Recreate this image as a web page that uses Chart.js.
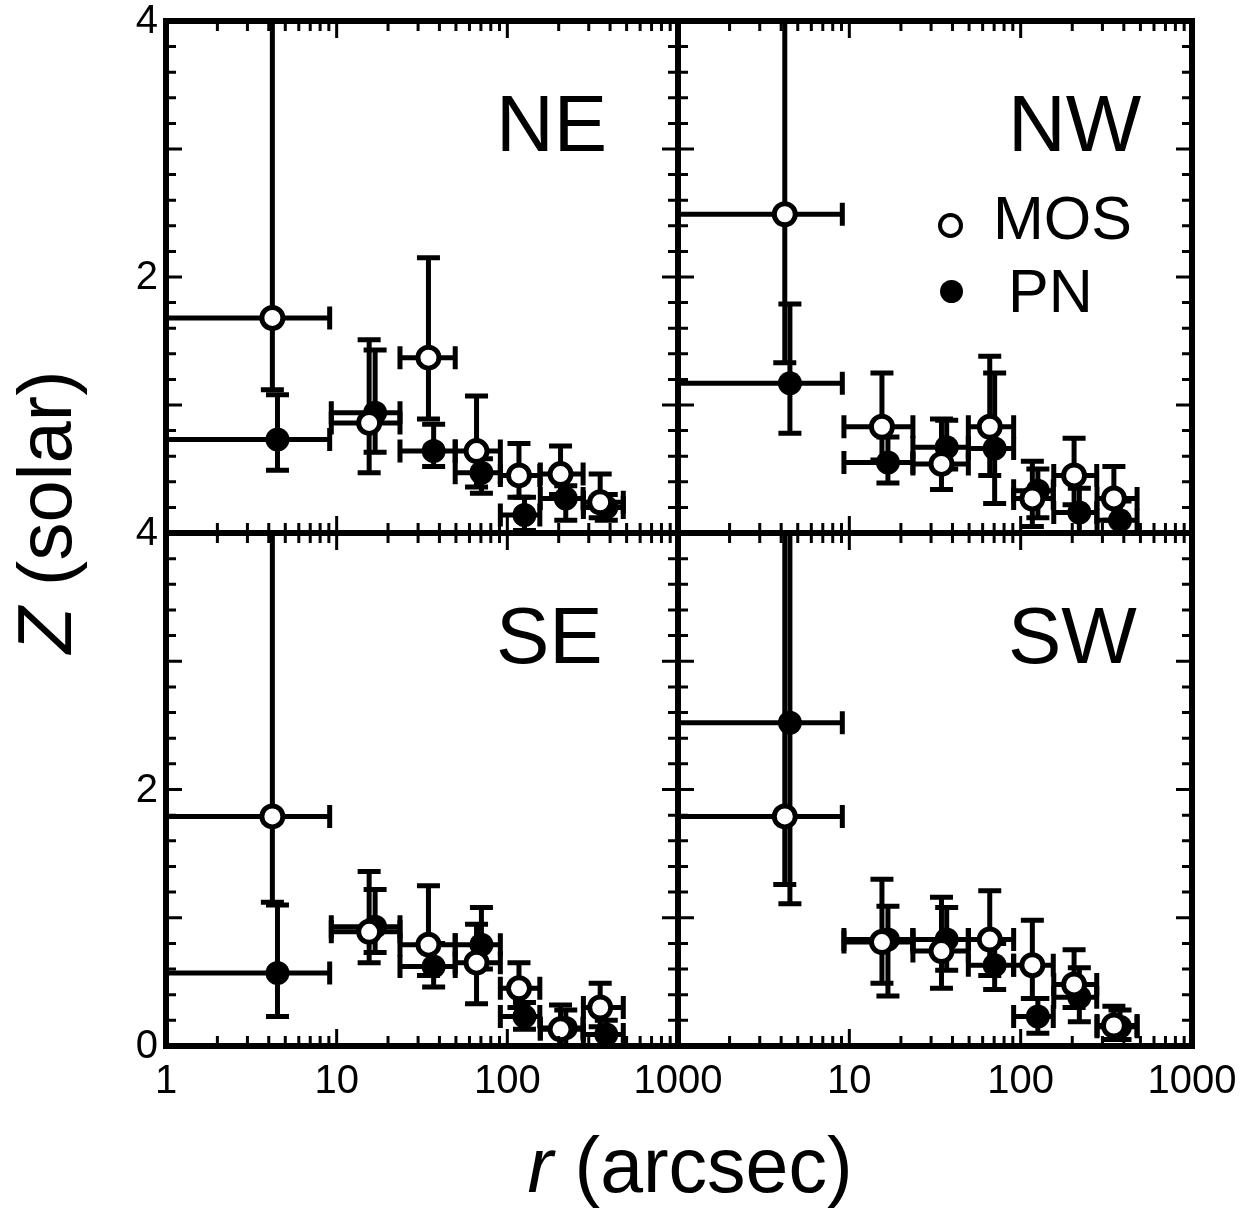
<!DOCTYPE html>
<html>
<head>
<meta charset="utf-8">
<script src="https://cdn.jsdelivr.net/npm/chart.js@4.4.1/dist/chart.umd.min.js"></script>
<style>
  html, body { margin: 0; padding: 0; background: #fff; }
  #fig { position: relative; width: 1253px; height: 1213px; overflow: hidden;
         font-family: "Liberation Sans", Arial, Helvetica, sans-serif; color: #000; }
  #fig canvas { position: absolute; }
  .lbl { position: absolute; white-space: nowrap; line-height: 1; }
  .mk { position: absolute; box-sizing: border-box; border-radius: 50%; }
</style>
</head>
<body>
<div id="fig"></div>
<script>
// radial bins (arcsec), shared by all sectors
const binLo = [0.3, 9.3, 23.5, 49.5, 91, 156, 279];
const binHi = [9.1, 23.5, 49.5, 91, 155, 278, 478];
const mosR = [4.2, 15.5, 34.5, 66, 117, 205, 350];
const pnR  = [4.5, 16.8, 37, 70.5, 126, 220, 380];

// NE
const neMosZ  = [1.68, 0.86, 1.37, 0.64, 0.45, 0.46, 0.24];
const neMosLo = [1.12, 0.47, 0.89, 0.36, 0.28, 0.30, 0.12];
const neMosHi = [4.6, 1.51, 2.15, 1.07, 0.70, 0.68, 0.46];
const nePnZ   = [0.73, 0.94, 0.64, 0.47, 0.14, 0.27, 0.20];
const nePnLo  = [0.49, 0.63, 0.52, 0.31, 0.02, 0.10, 0.10];
const nePnHi  = [1.08, 1.43, 0.85, 0.58, 0.28, 0.37, 0.30];

// NW
const nwMosZ  = [2.49, 0.83, 0.54, 0.83, 0.27, 0.45, 0.27];
const nwMosLo = [1.33, 0.57, 0.34, 0.45, 0.05, 0.22, 0.10];
const nwMosHi = [4.6, 1.25, 0.89, 1.38, 0.56, 0.74, 0.52];
const nwPnZ   = [1.17, 0.55, 0.67, 0.66, 0.33, 0.16, 0.10];
const nwPnLo  = [0.78, 0.39, 0.50, 0.23, 0.12, 0.0, 0.0];
const nwPnHi  = [1.79, 0.75, 0.88, 1.25, 0.50, 0.35, 0.25];

// SE
const seMosZ  = [1.79, 0.89, 0.79, 0.65, 0.45, 0.13, 0.30];
const seMosLo = [1.12, 0.65, 0.55, 0.33, 0.30, 0.0, 0.15];
const seMosHi = [4.6, 1.36, 1.25, 0.95, 0.65, 0.32, 0.49];
const sePnZ   = [0.57, 0.93, 0.62, 0.79, 0.23, 0.14, 0.09];
const sePnLo  = [0.23, 0.73, 0.46, 0.60, 0.13, 0.0, 0.0];
const sePnHi  = [1.10, 1.22, 0.80, 1.08, 0.34, 0.28, 0.20];

// SW
const swMosZ  = [1.79, 0.81, 0.74, 0.83, 0.63, 0.48, 0.16];
const swMosLo = [1.26, 0.49, 0.45, 0.55, 0.37, 0.30, 0.05];
const swMosHi = [4.6, 1.30, 1.16, 1.21, 0.98, 0.75, 0.31];
const swPnZ   = [2.52, 0.83, 0.83, 0.63, 0.23, 0.38, 0.15];
const swPnLo  = [1.11, 0.39, 0.59, 0.44, 0.10, 0.19, 0.05];
const swPnHi  = [4.6, 1.09, 1.08, 0.80, 0.37, 0.61, 0.28];

// tick labels
const xTickVals = [1, 10, 100, 1000];
const xTickText = ['1', '10', '100', '1000'];
const yTickVals = [0, 2, 4];
const yTickText = ['0', '2', '4'];

// tick marks (inward, all sides)
const xMajor = [10, 100];
const xMinor = [];
[1, 10, 100].forEach(d => { for (let k = 2; k <= 9; k++) xMinor.push(k * d); });
const yMajor = [1, 2, 3];
const yMinor = [];
for (let k = 1; k < 20; k++) if (k % 5) yMinor.push(k / 5);

const fig = document.getElementById('fig');

const errorBars = {
  id: 'errorBars',
  beforeDatasetsDraw(chart) {
    const { ctx, chartArea: a, scales: { x, y } } = chart;
    ctx.save();
    ctx.beginPath();
    ctx.rect(a.left, a.top, a.right - a.left, a.bottom - a.top);
    ctx.clip();
    ctx.strokeStyle = '#000';
    ctx.lineWidth = 5;
    ctx.lineCap = 'butt';
    const cap = 11.5;
    chart.data.datasets.slice().reverse().forEach(ds => {
      ds.data.forEach((pt, i) => {
        const px = x.getPixelForValue(pt.x), py = y.getPixelForValue(pt.y);
        const x0 = x.getPixelForValue(ds.xLo[i]), x1 = x.getPixelForValue(ds.xHi[i]);
        const y0 = y.getPixelForValue(ds.yLo[i]), y1 = y.getPixelForValue(ds.yHi[i]);
        ctx.beginPath();
        ctx.moveTo(x0, py); ctx.lineTo(x1, py);
        ctx.moveTo(x0, py - cap); ctx.lineTo(x0, py + cap);
        ctx.moveTo(x1, py - cap); ctx.lineTo(x1, py + cap);
        ctx.moveTo(px, y0); ctx.lineTo(px, y1);
        ctx.moveTo(px - cap, y0); ctx.lineTo(px + cap, y0);
        ctx.moveTo(px - cap, y1); ctx.lineTo(px + cap, y1);
        ctx.stroke();
      });
    });
    ctx.restore();
  }
};

const frame = {
  id: 'frame',
  afterDraw(chart) {
    const { ctx, chartArea: a, scales: { x, y } } = chart;
    ctx.save();
    ctx.strokeStyle = '#000';
    ctx.lineWidth = 3;
    ctx.beginPath();
    const tx = (v, len) => {
      const p = x.getPixelForValue(v);
      ctx.moveTo(p, a.bottom); ctx.lineTo(p, a.bottom - len);
      ctx.moveTo(p, a.top); ctx.lineTo(p, a.top + len);
    };
    const ty = (v, len) => {
      const p = y.getPixelForValue(v);
      ctx.moveTo(a.left, p); ctx.lineTo(a.left + len, p);
      ctx.moveTo(a.right, p); ctx.lineTo(a.right - len, p);
    };
    xMinor.forEach(v => tx(v, 10));
    xMajor.forEach(v => tx(v, 17));
    yMinor.forEach(v => ty(v, 10));
    yMajor.forEach(v => ty(v, 16));
    ctx.stroke();
    ctx.lineWidth = 6;
    ctx.strokeRect(a.left, a.top, a.right - a.left, a.bottom - a.top);
    ctx.restore();
  }
};

function text(html, x, baseline, size, align, extra) {
  const d = document.createElement('div');
  d.className = 'lbl';
  d.innerHTML = html;
  d.style.fontSize = size + 'px';
  d.style.left = x + 'px';
  d.style.top = (baseline - 0.8465 * size) + 'px';
  if (align === 'center') d.style.transform = 'translateX(-50%)';
  if (align === 'right') d.style.transform = 'translateX(-100%)';
  if (extra) Object.assign(d.style, extra);
  fig.appendChild(d);
  return d;
}

const M = 24;
function makePanel(p) {
  const w = p.right - p.left, h = p.bottom - p.top;
  const cv = document.createElement('canvas');
  cv.width = w + 2 * M;
  cv.height = h + 2 * M;
  cv.style.left = (p.left - M) + 'px';
  cv.style.top = (p.top - M) + 'px';
  fig.appendChild(cv);
  const chart = new Chart(cv, {
    type: 'scatter',
    data: {
      datasets: [
        {
          label: 'MOS',
          data: mosR.map((r, i) => ({ x: r, y: p.mosZ[i] })),
          xLo: binLo, xHi: binHi, yLo: p.mosLo, yHi: p.mosHi,
          pointRadius: 10.5, pointHoverRadius: 10.5,
          pointBackgroundColor: '#fff', pointBorderColor: '#000', pointBorderWidth: 5
        },
        {
          label: 'PN',
          data: pnR.map((r, i) => ({ x: r, y: p.pnZ[i] })),
          xLo: binLo, xHi: binHi, yLo: p.pnLo, yHi: p.pnHi,
          pointRadius: 12, pointHoverRadius: 12,
          pointBackgroundColor: '#000', pointBorderColor: '#000', pointBorderWidth: 0
        }
      ]
    },
    options: {
      responsive: false,
      animation: false,
      events: [],
      layout: { padding: M },
      plugins: { legend: { display: false }, tooltip: { enabled: false } },
      scales: {
        x: { type: 'logarithmic', min: 1, max: 1000, display: false },
        y: { type: 'linear', min: 0, max: 4, display: false }
      }
    },
    plugins: [errorBars, frame]
  });

  const ox = p.left - M, oy = p.top - M;
  // tick labels
  if (p.yLabels) {
    yTickVals.forEach((v, i) => {
      if (!p.yLabels.includes(v)) return;
      const py = oy + chart.scales.y.getPixelForValue(v);
      text(yTickText[i], p.left - 8, py - 2 + 14.3, 40, 'right');
    });
  }
  if (p.xLabels) {
    xTickVals.forEach((v, i) => {
      if (!p.xLabels.includes(v)) return;
      const px = ox + chart.scales.x.getPixelForValue(v);
      text(xTickText[i], px, 1093, 40, 'center');
    });
  }
  // sector name
  text(p.name, p.left + 330, p.top + 131, 80, 'left');
  return chart;
}

const panels = [
  { name: 'NE', left: 166, top: 21, right: 678, bottom: 533,
    mosZ: neMosZ, mosLo: neMosLo, mosHi: neMosHi, pnZ: nePnZ, pnLo: nePnLo, pnHi: nePnHi,
    yLabels: [2, 4] },
  { name: 'NW', left: 678, top: 21, right: 1192, bottom: 533,
    mosZ: nwMosZ, mosLo: nwMosLo, mosHi: nwMosHi, pnZ: nwPnZ, pnLo: nwPnLo, pnHi: nwPnHi },
  { name: 'SE', left: 166, top: 533, right: 678, bottom: 1046,
    mosZ: seMosZ, mosLo: seMosLo, mosHi: seMosHi, pnZ: sePnZ, pnLo: sePnLo, pnHi: sePnHi,
    yLabels: [0, 2, 4], xLabels: [1, 10, 100, 1000] },
  { name: 'SW', left: 678, top: 533, right: 1192, bottom: 1046,
    mosZ: swMosZ, mosLo: swMosLo, mosHi: swMosHi, pnZ: swPnZ, pnLo: swPnLo, pnHi: swPnHi,
    xLabels: [10, 100, 1000] }
];
panels.forEach(makePanel);

// legend (NW panel)
function marker(cx, cy, d, filled) {
  const m = document.createElement('div');
  m.className = 'mk';
  m.style.left = (cx - d / 2) + 'px';
  m.style.top = (cy - d / 2) + 'px';
  m.style.width = d + 'px';
  m.style.height = d + 'px';
  m.style.background = filled ? '#000' : '#fff';
  m.style.border = filled ? 'none' : '4.5px solid #000';
  fig.appendChild(m);
}
marker(950, 225, 25, false);
marker(951, 291, 23, true);
text('MOS', 993, 240, 61, 'left');
text('PN', 1008, 313, 61, 'left');

// axis titles
text('<i>r</i> (arcsec)', 690, 1192, 77, 'center');
const yt = document.createElement('div');
yt.className = 'lbl';
yt.innerHTML = '<i>Z</i> (solar)';
yt.style.fontSize = '76px';
yt.style.left = '45px';
yt.style.top = '512px';
yt.style.transform = 'translate(-50%, -50%) rotate(-90deg)';
fig.appendChild(yt);
</script>
</body>
</html>
